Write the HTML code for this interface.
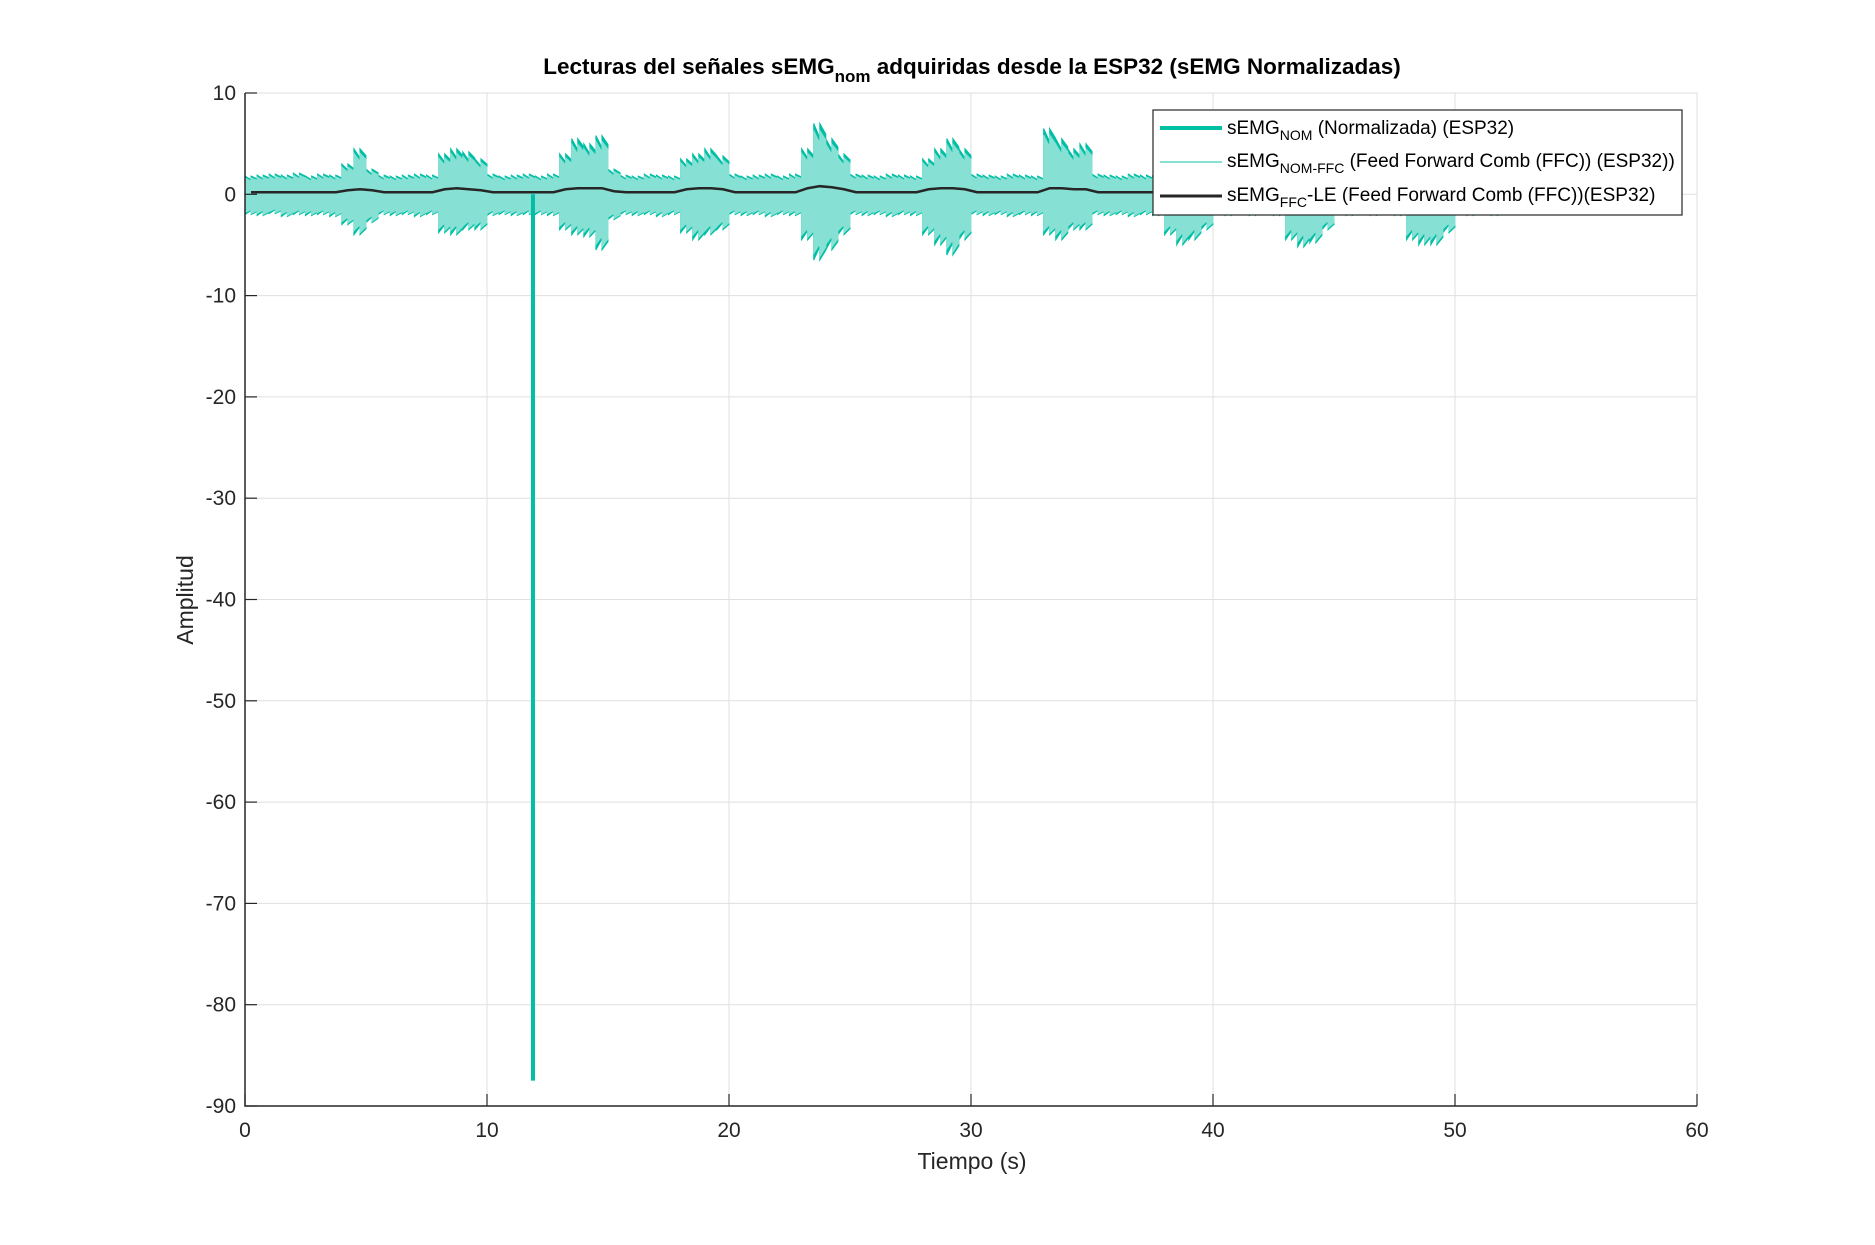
<!DOCTYPE html>
<html><head><meta charset="utf-8"><style>
html,body{margin:0;padding:0;background:#fff}
svg{display:block;font-family:"Liberation Sans",Arial,sans-serif}
</style></head><body>
<svg id="chart" width="1875" height="1245" viewBox="0 0 1875 1245">
<rect width="1875" height="1245" fill="#fff"/>
<g id="grid"></g>
<g id="plot"></g>
<g id="axes"></g>
<text x="972" y="74" text-anchor="middle" font-size="22.5" font-weight="bold" fill="#000">Lecturas del señales sEMG<tspan font-size="17" dy="8">nom</tspan><tspan dy="-8"> adquiridas desde la ESP32 (sEMG Normalizadas)</tspan></text>
<text x="972" y="1169" text-anchor="middle" font-size="23" fill="#262626">Tiempo (s)</text>
<text transform="translate(193,600) rotate(-90)" text-anchor="middle" font-size="23" fill="#262626">Amplitud</text>
<g>
<rect x="1153" y="110" width="529" height="105" fill="#fff" stroke="#262626" stroke-width="1.2"/>
<line x1="1160" y1="128" x2="1222" y2="128" stroke="#00bfa5" stroke-width="4"/>
<text x="1227" y="134" font-size="19" fill="#000">sEMG<tspan font-size="14" dy="6">NOM</tspan><tspan dy="-6"> (Normalizada) (ESP32)</tspan></text>
<line x1="1160" y1="162" x2="1222" y2="162" stroke="#86e0d4" stroke-width="2"/>
<text x="1227" y="167" font-size="19" fill="#000">sEMG<tspan font-size="14" dy="6">NOM-FFC</tspan><tspan dy="-6"> (Feed Forward Comb (FFC)) (ESP32))</tspan></text>
<line x1="1160" y1="196" x2="1222" y2="196" stroke="#262626" stroke-width="3"/>
<text x="1227" y="201" font-size="19" fill="#000">sEMG<tspan font-size="14" dy="6">FFC</tspan><tspan dy="-6">-LE (Feed Forward Comb (FFC))(ESP32)</tspan></text>
</g>
</svg>
<script>
const xTicks=[0,10,20,30,40,50,60];
const yTicks=[10,0,-10,-20,-30,-40,-50,-60,-70,-80,-90];
const binStep=0.5;
const upper=[1.8,1.9,2.0,1.9,2.1,1.8,2.0,1.9, 3.0,4.5,2.5,1.9,1.8,1.9,2.0,1.9, 4.0,4.5,4.2,3.5,2.0,1.8,1.9,2.0,
 1.8,2.0,4.0,5.5,5.0,5.8,2.5,1.9, 1.8,2.0,1.9,1.8,3.5,4.0,4.5,3.8, 2.0,1.8,1.9,2.0,1.8,2.0,4.5,7.0,5.5,4.0,
 2.0,1.9,1.8,2.0,1.9,1.8,3.5,4.5,5.5,4.5, 2.0,1.9,1.8,2.0,1.9,1.8,6.5,5.5,4.5,5.0, 2.0,1.9,1.8,2.0,1.9,1.8,3.0,3.5,3.0,2.5,
 1.8,1.7,1.8,1.7,1.8,1.7,2.5,3.0,3.0,2.5, 1.8,1.7,1.8,1.7,1.8,1.7,2.5,3.0,3.0,2.5, 1.7,1.8,1.7,1.8,1.7];
const lower=[-2.0,-2.1,-1.9,-2.2,-2.0,-2.1,-2.0,-2.2, -3.0,-4.0,-2.8,-2.0,-2.1,-2.0,-2.2,-2.0, -3.8,-4.0,-3.5,-3.5,-2.1,-2.0,-2.1,-2.0,
 -2.0,-2.1,-3.5,-4.0,-4.2,-5.5,-2.5,-2.0, -2.1,-2.0,-2.2,-2.0,-3.8,-4.5,-4.0,-3.5, -2.0,-2.1,-2.0,-2.2,-2.0,-2.1,-4.5,-6.5,-5.5,-4.0,
 -2.0,-2.1,-2.0,-2.2,-2.0,-2.1,-4.0,-5.0,-6.0,-4.5, -2.0,-2.1,-2.0,-2.2,-2.0,-2.1,-4.0,-4.5,-3.5,-3.5, -2.0,-2.1,-2.0,-2.2,-2.0,-2.1,-4.0,-5.0,-4.5,-3.5,
 -2.0,-2.1,-2.0,-2.1,-2.0,-2.1,-4.5,-5.2,-4.8,-3.5, -2.0,-2.1,-2.0,-2.1,-2.0,-2.1,-4.5,-5.0,-5.0,-3.8, -2.0,-2.1,-2.0,-2.1,-2.0];
const envelopeLE=[0.2,0.2,0.2,0.2,0.2,0.2,0.2,0.2, 0.4,0.5,0.4,0.2,0.2,0.2,0.2,0.2, 0.5,0.6,0.5,0.4,0.2,0.2,0.2,0.2,
 0.2,0.2,0.5,0.6,0.6,0.6,0.3,0.2, 0.2,0.2,0.2,0.2,0.5,0.6,0.6,0.5, 0.2,0.2,0.2,0.2,0.2,0.2,0.6,0.8,0.7,0.5,
 0.2,0.2,0.2,0.2,0.2,0.2,0.5,0.6,0.6,0.5, 0.2,0.2,0.2,0.2,0.2,0.2,0.6,0.6,0.5,0.5, 0.2,0.2,0.2,0.2,0.2,0.2,0.4,0.4,0.4,0.3,
 0.2,0.2,0.2,0.2,0.2,0.2,0.3,0.4,0.4,0.3, 0.2,0.2,0.2,0.2,0.2,0.2,0.3,0.4,0.4,0.3, 0.2,0.2,0.2,0.2,0.2];
const spikeTime=[11.9];
const spikeValue=[-87.5];

const NS='http://www.w3.org/2000/svg';
const X0=245,X1=1697,Y0=93,Y1=1106;
const xs=v=>X0+(v-0)/(60-0)*(X1-X0);
const ys=v=>Y0+(10-v)/(10-(-90))*(Y1-Y0);
function mk(tag,attrs,parent){const e=document.createElementNS(NS,tag);for(const k in attrs)e.setAttribute(k,attrs[k]);parent.appendChild(e);return e;}
const grid=document.getElementById('grid'),plot=document.getElementById('plot'),axes=document.getElementById('axes');
xTicks.forEach(t=>{const l=mk('line',{x1:xs(t),x2:xs(t),y1:Y0,y2:Y1,stroke:'#dfdfdf','stroke-width':1},grid);


const tk=mk('line',{x1:xs(t),x2:xs(t),y1:Y1,y2:Y1-12,stroke:'#262626','stroke-width':1.2},axes);


const tx=mk('text',{x:xs(t),y:Y1+31,'text-anchor':'middle','font-size':21,fill:'#262626'},axes);tx.textContent=t;

});
yTicks.forEach(t=>{const l=mk('line',{x1:X0,x2:X1,y1:ys(t),y2:ys(t),stroke:'#dfdfdf','stroke-width':1},grid);


const tk=mk('line',{x1:X0,x2:X0+12,y1:ys(t),y2:ys(t),stroke:'#262626','stroke-width':1.2},axes);


const tx=mk('text',{x:X0-9,y:ys(t)+7,'text-anchor':'end','font-size':21,fill:'#262626'},axes);tx.textContent=t;

});
const ax=mk('path',{d:`M${X0},${Y0}V${Y1}H${X1}`,fill:'none',stroke:'#262626','stroke-width':1.5},axes);


function envPath(arr,scale){let d='';arr.forEach((v,i)=>{const a=xs(i*binStep),b=xs((i+1)*binStep),m=(a+b)/2;
d+=(i?'L':'M')+a+','+ys(v*scale)+'L'+m+','+ys(v*0.8*scale)+'L'+m+','+ys(v*scale)+'L'+b+','+ys(v*0.85*scale);});return d;}
const n=upper.length,xEnd=xs(n*binStep);
let dDark=envPath(upper,1)+'L'+xEnd+','+ys(0);
let low='';for(let i=n-1;i>=0;i--){const a=xs(i*binStep),b=xs((i+1)*binStep),m=(a+b)/2;low+='L'+b+','+ys(lower[i]*0.85)+'L'+m+','+ys(lower[i])+'L'+m+','+ys(lower[i]*0.8)+'L'+a+','+ys(lower[i]);}
const dark=mk('path',{d:dDark+low+'Z',fill:'#00bfa5',stroke:'#00bfa5','stroke-width':1},plot);


let dLight=envPath(upper,0.9)+'L'+xEnd+','+ys(0);
let low2='';for(let i=n-1;i>=0;i--){const a=xs(i*binStep),b=xs((i+1)*binStep),m=(a+b)/2;low2+='L'+b+','+ys(lower[i]*0.8)+'L'+m+','+ys(lower[i]*0.95)+'L'+m+','+ys(lower[i]*0.75)+'L'+a+','+ys(lower[i]*0.9);}
const light=mk('path',{d:dLight+low2+'Z',fill:'#86e0d4',stroke:'#86e0d4','stroke-width':1},plot);


spikeTime.forEach((t,i)=>{const s=mk('line',{x1:xs(t),x2:xs(t),y1:ys(0),y2:ys(spikeValue[i]),stroke:'#00bfa5','stroke-width':4},plot);

});
let dLE='';envelopeLE.forEach((v,i)=>{dLE+=(i?'L':'M')+xs((i+0.5)*binStep)+','+ys(v);});
const le=mk('path',{d:dLE,fill:'none',stroke:'#262626','stroke-width':2.5},plot);


</script>
</body></html>
